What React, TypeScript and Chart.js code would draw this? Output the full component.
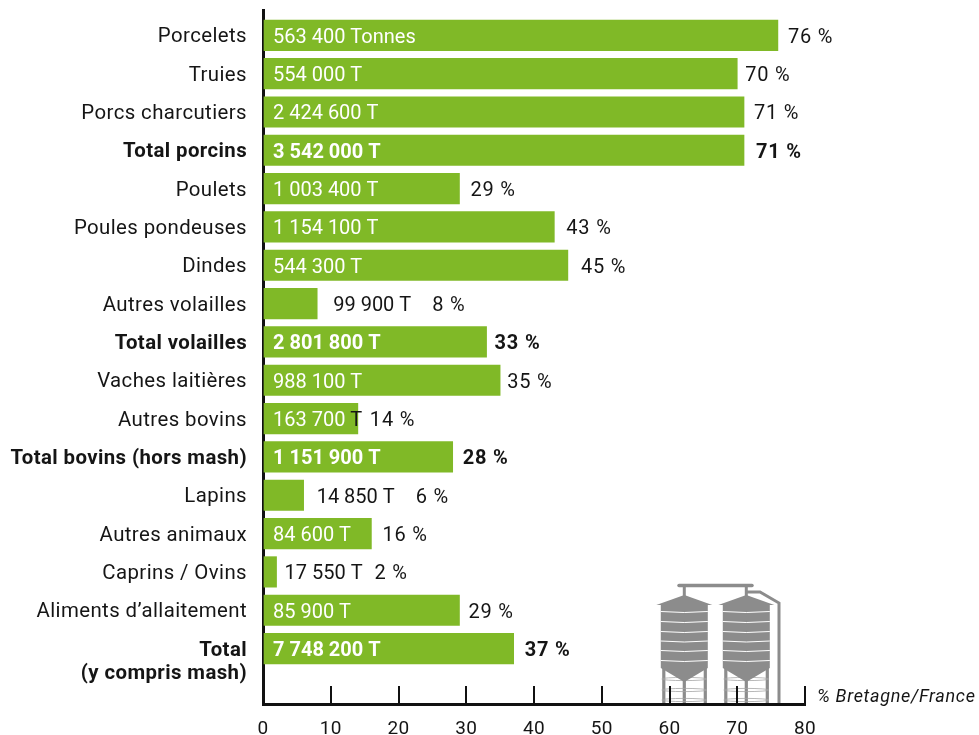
import React, { useEffect, useRef } from "react";
import { Chart, registerables } from "chart.js";

Chart.register(...registerables);

const categories = ["Porcelets","Truies","Porcs charcutiers","Total porcins","Poulets","Poules pondeuses","Dindes","Autres volailles","Total volailles","Vaches laitières","Autres bovins","Total bovins (hors mash)","Lapins","Autres animaux","Caprins / Ovins","Aliments d’allaitement","Total"];
const percents = [76,70,71,71,29,43,45,8,33,35,14,28,6,16,2,29,37];
const tonnages = ["563 400 Tonnes","554 000 T","2 424 600 T","3 542 000 T","1 003 400 T","1 154 100 T","544 300 T","99 900 T","2 801 800 T","988 100 T","163 700 T","1 151 900 T","14 850 T","84 600 T","17 550 T","85 900 T","7 748 200 T"];
const totals = ["Total porcins","Total volailles","Total bovins (hors mash)","Total"];
const secondLine = "(y compris mash)";
const xTicks = [0,10,20,30,40,50,60,70,80];
const unitNote = "% Bretagne/France";

const FONT = "Roboto";
const GREEN = "#80b927";
const GREY = "#8c8c8c";
const INK = "#151515";
const SECOND_TICK = 16.61;
const LABEL_SHIFT = 0.05; // nudges the category labels down to the optical centre of each bar
// Layout only: distance from the bar end to the label, in pixels.
const pctGaps = [10,8,10,12,11,12,13,115,8,7,12,10,112,11,98,9,11];
const tonnageGaps: Record<number, number> = { 7: 16, 12: 13, 14: 8 };

function silo(ctx: CanvasRenderingContext2D, cx: number) {
  ctx.fillStyle = GREY;
  ctx.strokeStyle = GREY;
  ctx.lineWidth = 3.2;
  for (const dx of [-20.5, 0, 21]) {
    ctx.beginPath(); ctx.moveTo(cx + dx, 666); ctx.lineTo(cx + dx, 705); ctx.stroke();
  }
  ctx.lineWidth = 0.8;
  ctx.strokeStyle = "#a6a6a6";
  for (const y of [679, 690, 700]) {
    ctx.beginPath(); ctx.ellipse(cx, y, 22.5, 1.6, 0, 0, Math.PI * 2); ctx.stroke();
  }
  ctx.beginPath();
  ctx.moveTo(cx - 28, 605); ctx.lineTo(cx, 595); ctx.lineTo(cx + 28, 605); ctx.closePath(); ctx.fill();
  ctx.beginPath();
  ctx.moveTo(cx - 23.5, 604); ctx.lineTo(cx + 23.5, 604); ctx.lineTo(cx + 23.5, 668); ctx.lineTo(cx, 682); ctx.lineTo(cx - 23.5, 668); ctx.closePath(); ctx.fill();
  ctx.strokeStyle = "#fff";
  ctx.lineWidth = 1;
  for (const y of [612, 622, 632, 641.5, 651, 661]) {
    ctx.beginPath(); ctx.moveTo(cx - 23.5, y - 0.5); ctx.quadraticCurveTo(cx, y + 1.5, cx + 23.5, y - 0.5); ctx.stroke();
  }
  ctx.strokeStyle = GREY;
  ctx.lineWidth = 3;
  ctx.beginPath(); ctx.moveTo(cx, 586); ctx.lineTo(cx, 596); ctx.stroke();
}

const siloPlugin = {
  id: "silo",
  beforeDraw(chart: any) {
    const { ctx } = chart;
    (ctx as any).letterSpacing = "0.4px";
    ctx.save();
    silo(ctx, 684.3);
    silo(ctx, 746.3);
    ctx.strokeStyle = GREY;
    ctx.lineCap = "round";
    ctx.lineWidth = 3.5;
    ctx.beginPath(); ctx.moveTo(679, 585.5); ctx.lineTo(752, 585.5); ctx.stroke();
    ctx.lineWidth = 3;
    ctx.lineCap = "butt";
    ctx.beginPath(); ctx.moveTo(746, 592); ctx.lineTo(760, 592); ctx.lineTo(779, 603); ctx.lineTo(779, 705); ctx.stroke();
    ctx.restore();
  },
};

const labelPlugin = {
  id: "labels",
  afterDatasetsDraw(chart: any) {
    const { ctx, scales } = chart;
    const x = scales.x, y = scales.y;
    ctx.save();
    ctx.textBaseline = "middle";
    percents.forEach((p, i) => {
      const bold = totals.includes(categories[i]);
      ctx.font = `${bold ? "700" : "400"} 20px ${FONT}`;
      (ctx as any).letterSpacing = "0px";
      const end = x.getPixelForValue(p);
      const py = y.getPixelForValue(i) + 2.5;
      const label = tonnages[i];
      const outsideGap = tonnageGaps[i];
      const tx = outsideGap !== undefined ? end + outsideGap : 273;
      const tw = ctx.measureText(label).width;
      if (outsideGap !== undefined) {
        ctx.fillStyle = INK;
        ctx.fillText(label, tx, py);
      } else if (tx + tw > end) {
        const cut = label.lastIndexOf(" ") + 1;
        const head = label.slice(0, cut);
        ctx.fillStyle = "#fff";
        ctx.fillText(head, tx, py);
        ctx.fillStyle = INK;
        ctx.fillText(label.slice(cut), tx + ctx.measureText(head).width, py);
      } else {
        ctx.fillStyle = "#fff";
        ctx.fillText(label, tx, py);
      }
      (ctx as any).letterSpacing = "0.8px";
      ctx.fillStyle = INK;
      ctx.fillText(`${p} %`, end + pctGaps[i], py);
    });
    (ctx as any).letterSpacing = "0.7px";
    ctx.font = `italic 400 18px ${FONT}`;
    ctx.fillStyle = INK;
    ctx.fillText(unitNote, 817, 697.5);
    ctx.restore();
  },
};

export default function App() {
  const ref = useRef<HTMLCanvasElement | null>(null);
  useEffect(() => {
    const chart = new Chart(ref.current as HTMLCanvasElement, {
      type: "bar",
      data: {
        datasets: [{
          data: percents.map((p, i) => ({ x: p, y: i })),
          backgroundColor: GREEN,
          barThickness: 30.5,
          borderWidth: 0,
        }],
      },
      plugins: [siloPlugin, labelPlugin],
      options: {
        indexAxis: "y",
        animation: false,
        responsive: false,
        layout: { padding: { top: 10, right: 174, left: 0, bottom: 0 } },
        plugins: { legend: { display: false }, tooltip: { enabled: false }, title: { display: false } },
        scales: {
          x: {
            type: "linear",
            min: 0,
            max: 80,
            position: "bottom",
            afterFit: (s: any) => { s.height = 31; s.paddingLeft = 0; s.paddingRight = 0; },
            afterBuildTicks: (s: any) => { s.ticks = xTicks.map((value) => ({ value })); },
            border: { display: true, color: "#111", width: 3 },
            grid: { drawOnChartArea: false, drawTicks: true, tickLength: -18, color: "#111", lineWidth: 2 },
            ticks: { padding: 32, maxRotation: 0, autoSkip: false, color: INK, font: { family: FONT, size: 19 } },
          },
          y: {
            type: "linear",
            reverse: true,
            offset: false,
            min: -0.66,
            max: 17.446,
            afterFit: (s: any) => { s.width = 263; s.paddingTop = 0; s.paddingBottom = 0; },
            afterBuildTicks: (s: any) => {
              s.ticks = [
                ...categories.map((_, i) => ({ value: i + LABEL_SHIFT })),
                { value: SECOND_TICK + LABEL_SHIFT },
              ];
            },
            border: { display: true, color: "#111", width: 3 },
            grid: { display: false, drawTicks: false },
            ticks: {
              padding: 16,
              autoSkip: false,
              color: INK,
              callback: (v: any) => {
                const raw = v - LABEL_SHIFT;
                return Math.abs(raw - SECOND_TICK) < 0.001 ? secondLine : categories[Math.round(raw)] ?? "";
              },
              font: (c: any) => {
                const raw = (c.tick?.value ?? 0) - LABEL_SHIFT;
                const isSecond = Math.abs(raw - SECOND_TICK) < 0.001;
                const bold = isSecond || totals.includes(categories[Math.round(raw)]);
                return { family: FONT, size: 20.4, weight: bold ? "700" : "400" };
              },
            },
          },
        },
      } as any,
    });
    return () => chart.destroy();
  }, []);
  return (
    <div style={{ position: "absolute", left: 0, top: 0, width: 979, height: 735 }}>
      <canvas ref={ref} width={979} height={735} style={{ display: "block" }} />
    </div>
  );
}
